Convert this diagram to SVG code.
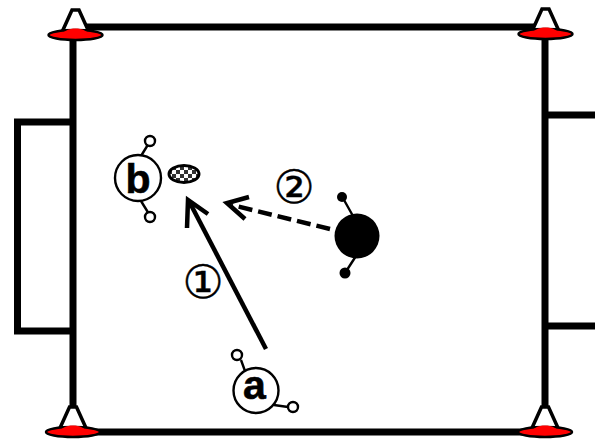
<svg xmlns="http://www.w3.org/2000/svg" xmlns:xlink="http://www.w3.org/1999/xlink" width="595" height="440" viewBox="0 0 595 440">
<style>
.f{fill:none;stroke:#000;stroke-width:7}
.ring{fill:#fff;stroke:#000;stroke-width:2.4}
.ln{stroke:#000;stroke-width:2.4;fill:none}
.lab{font-family:"Liberation Sans",Arial,sans-serif;font-weight:bold;font-size:41px;text-anchor:middle;fill:#000;stroke:#000;stroke-width:.6}
.num{font-family:"DejaVu Sans","Noto Sans CJK JP",sans-serif;font-size:46px;text-anchor:middle;fill:#000;stroke:#000;stroke-width:.4}
</style>
<defs>
<pattern id="chk" width="8" height="8" patternUnits="userSpaceOnUse" x="172" y="166">
<rect width="8" height="8" fill="#fff"/><rect width="4" height="4" fill="#333"/><rect x="4" y="4" width="4" height="4" fill="#333"/>
</pattern>
<g id="cone">
<path d="M-13 -4L-3.500 -25H3.500L13 -4" fill="#fff" stroke="#000" stroke-width="3.500"/>
<ellipse cx="0" cy="0" rx="27" ry="5" fill="#f00" stroke="#000" stroke-width="2.500"/>
<path d="M-14 1C-12 -9 12 -9 14 1Z" fill="#f00"/>
</g>
</defs>
<rect width="595" height="440" fill="#fff"/>
<g id="field">
<path class="f" d="M73 27H545M73 27V432M545 27V432M73 432H545"/>
<path class="f" d="M73 122H17.500V331H73"/>
<path class="f" d="M545 115H595M545 326H595"/>
</g>
<use id="cone-tl" xlink:href="#cone" href="#cone" x="75.500" y="35"/>
<use id="cone-tr" xlink:href="#cone" href="#cone" x="545.500" y="34"/>
<use id="cone-bl" xlink:href="#cone" href="#cone" x="73" y="432"/>
<use id="cone-br" xlink:href="#cone" href="#cone" x="545" y="432"/>
<g id="connectors">
<path d="M266 349L190 203" fill="none" stroke="#000" stroke-width="4.500"/>
<path d="M187 228L188 200L208 214" fill="none" stroke="#000" stroke-width="4.500"/>
<path d="M330 229L232 205" fill="none" stroke="#000" stroke-width="4.500" stroke-dasharray="14 6"/>
<path d="M245 219L227 203L249 197" fill="none" stroke="#000" stroke-width="4.500"/>
</g>
<g id="node-b">
<path class="ln" d="M141 156L149 143M141 201L149 214"/>
<circle class="ring" cx="138" cy="178" r="23"/>
<circle class="ring" cx="150" cy="141" r="5"/>
<circle class="ring" cx="150" cy="217" r="5"/>
<text class="lab" x="138" y="193">b</text>
</g>
<g id="ball"><ellipse cx="184" cy="174" rx="15" ry="8.500" fill="url(#chk)" stroke="#000" stroke-width="3"/></g>
<g id="node-a">
<path class="ln" d="M241 360L245 371M274 405L288 407"/>
<circle class="ring" cx="256" cy="390.500" r="22.500"/>
<circle class="ring" cx="237" cy="355" r="5"/>
<circle class="ring" cx="293" cy="407" r="5"/>
<text class="lab" x="254.500" y="399">a</text>
</g>
<g id="node-opponent">
<path class="ln" d="M344 200L353 216M345 273L356 256"/>
<circle cx="357" cy="236" r="22.500"/>
<circle cx="342" cy="197" r="5"/>
<circle cx="345" cy="273" r="5.500"/>
</g>
<text id="label-1" class="num" x="203" y="298">①</text>
<text id="label-2" class="num" x="294" y="203">②</text>
</svg>
